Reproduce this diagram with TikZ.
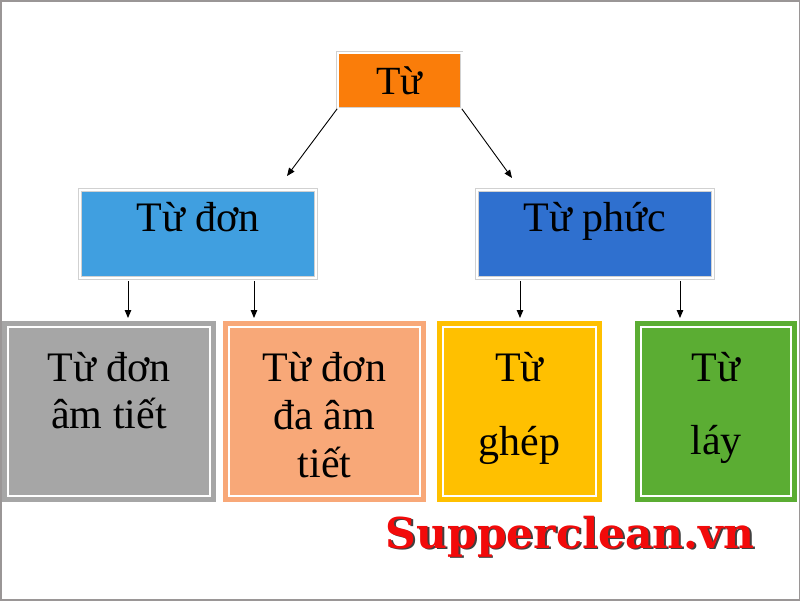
\documentclass[tikz,border=0pt]{standalone}
\usepackage{fontspec}
\setmainfont{Liberation Serif}
\newfontfamily\brandfont{DejaVu Serif}
\usetikzlibrary{arrows.meta,calc}
\definecolor{cTop}{HTML}{FA7D0A}
\definecolor{cDon}{HTML}{409FE0}
\definecolor{cPhuc}{HTML}{2F70CF}
\definecolor{cGray}{HTML}{A6A6A6}
\definecolor{cLOr}{HTML}{F8A878}
\definecolor{cYel}{HTML}{FFC000}
\definecolor{cGrn}{HTML}{5BAD33}
\definecolor{cFrame}{HTML}{9A9696}
\definecolor{cBrand}{HTML}{F20A0A}
\definecolor{cShadow}{HTML}{404040}
\tikzset{
  headbox/.style={rectangle, inner sep=0pt, draw=black!18, line width=0.7pt,
    double=white, double distance=2pt},
  leafbox/.style={rectangle, inner sep=0pt},
  lbl/.style={anchor=north, inner sep=0pt, align=center, text=black},
  arr/.style={-{Triangle[length=8pt,width=6.5pt]}, line width=0.9pt, black},
}
\begin{document}
\begin{tikzpicture}[x=1pt,y=-1pt]
\useasboundingbox (0,0) rectangle (800,600);
\fill[white] (0,0) rectangle (800,600);
% frame
\draw[cFrame, line width=3pt] (0,0) rectangle (800,600);

% top node
\node[headbox, fill=cTop, minimum width=124pt, minimum height=56pt,
  label={[lbl, yshift=-14pt, font=\fontsize{40}{44}\selectfont]north:Từ}] (top) at (399.5,80.5) {};

% second level
\node[headbox, fill=cDon, minimum width=236pt, minimum height=88pt,
  label={[lbl, yshift=-12pt, font=\fontsize{42}{47}\selectfont]north:Từ đơn}] (don) at (198,234) {};
\node[headbox, fill=cPhuc, minimum width=236pt, minimum height=88pt,
  label={[lbl, yshift=-12pt, font=\fontsize{42}{47}\selectfont]north:Từ phức}] (phuc) at (595,234) {};

% leaves
\node[leafbox, fill=cGray, minimum width=214pt, minimum height=181pt,
  label={[lbl, yshift=-31pt, font=\fontsize{42}{47}\selectfont]north:Từ đơn\\âm tiết}] (g) at (109,411.5) {};
\node[leafbox, fill=cLOr, minimum width=203pt, minimum height=181pt,
  label={[lbl, yshift=-31pt, font=\fontsize{42}{48}\selectfont]north:Từ đơn\\đa âm\\tiết}] (o) at (324.5,411.5) {};
\node[leafbox, fill=cYel, minimum width=165pt, minimum height=181pt,
  label={[lbl, yshift=-31pt, font=\fontsize{42}{47}\selectfont]north:Từ\\[27pt]ghép}] (y) at (519.5,411.5) {};
\node[leafbox, fill=cGrn, minimum width=162pt, minimum height=181pt,
  label={[lbl, yshift=-31pt, font=\fontsize{42}{47}\selectfont]north:Từ\\[26pt]láy}] (l) at (716,411.5) {};

% inner white lines of the leaves
\foreach \n in {g,o,y,l}{
  \draw[white, line width=1.6pt] ($(\n.north west)+(6,6)$) rectangle ($(\n.south east)+(-6,-6)$);
}

% arrow tips
\coordinate (t1) at (287,176);
\coordinate (t2) at (512,178);
\coordinate (d1) at (128,318);
\coordinate (d2) at (254,318);
\coordinate (d3) at (520,318);
\coordinate (d4) at (680,318);

\draw[arr] (top.south west) -- (t1);
\draw[arr] (top.south east) -- (t2);
\draw[arr, shorten <=3pt] (don.south -| d1) -- (d1);
\draw[arr, shorten <=3pt] (don.south -| d2) -- (d2);
\draw[arr, shorten <=3pt] (phuc.south -| d3) -- (d3);
\draw[arr, shorten <=3pt] (phuc.south -| d4) -- (d4);

% brand (with its drop shadow, one text)
\node[anchor=base, inner sep=0pt, text=cBrand, font=\brandfont\bfseries\fontsize{42.5}{46}\selectfont] (brand) at (570,548)
  {\rlap{\kern1.8pt\raisebox{-1.8pt}{\color{cShadow}Supperclean.vn}}Supperclean.vn};
\end{tikzpicture}
\end{document}
